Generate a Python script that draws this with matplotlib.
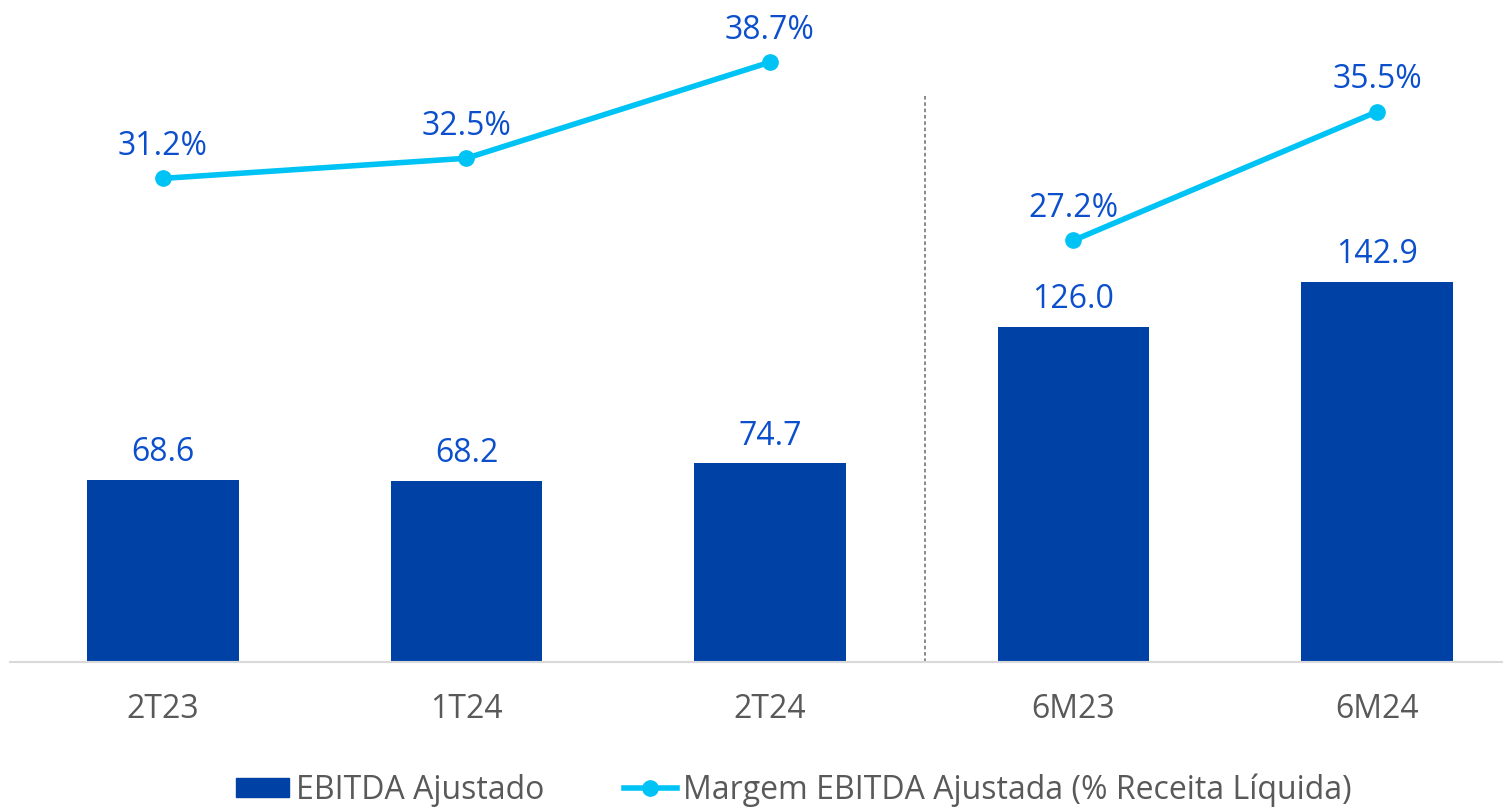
import matplotlib.pyplot as plt
from matplotlib.lines import Line2D
from matplotlib.patches import Patch

categories = ['2T23', '1T24', '2T24', '6M23', '6M24']
ebitda = [68.6, 68.2, 74.7, 126.0, 142.9]
margem = [31.2, 32.5, 38.7, 27.2, 35.5]

bar_color = '#0041A6'
line_color = '#00C3F5'
label_color = '#0B4FCC'
tick_color = '#595959'

plt.rcParams['font.family'] = ['Open Sans', 'DejaVu Sans']

fig = plt.figure(figsize=(15.04, 8.08), dpi=100)
ax = fig.add_axes([10/1504, 1-662/808, 1492/1504, 662/808])
ax2 = ax.twinx()

x = list(range(len(categories)))
ax.bar(x, ebitda, width=0.5, color=bar_color, zorder=2)
for xi, v in zip(x, ebitda):
    ax.text(xi, v + 4.0, f'{v:.1f}', ha='center', va='bottom', fontsize=23, color=label_color)

# quarters and semesters are drawn as two separate lines
ax2.plot(x[:3], margem[:3], color=line_color, lw=4, marker='o', ms=11, zorder=3)
ax2.plot(x[3:], margem[3:], color=line_color, lw=4, marker='o', ms=11, zorder=3)
for xi, v in zip(x, margem):
    ax2.text(xi, v + 1.0, f'{v:.1f}%', ha='center', va='bottom', fontsize=23, color=label_color)

ax.axvline(2.51, ymin=0, ymax=567/662, color='#808080', lw=1.3, ls=(0, (2, 1.5)))

ax.set_xlim(-0.504, 4.412)
ax.set_ylim(0, 662/2.66)
ax2.set_ylim(0, 662/15.5)

ax.set_xticks(x)
ax.set_xticklabels(categories, fontsize=23, color=tick_color)
ax.tick_params(axis='x', length=0, pad=22)
ax.set_yticks([])
ax2.set_yticks([])
for a in (ax, ax2):
    for s in ['top', 'right', 'left', 'bottom']:
        a.spines[s].set_visible(False)
ax.spines['bottom'].set_visible(True)
ax.spines['bottom'].set_color('#D9D9D9')
ax.spines['bottom'].set_linewidth(1.5)

handles = [Patch(color=bar_color),
           Line2D([0], [0], color=line_color, lw=4, marker='o', ms=11)]
labels = ['EBITDA Ajustado', 'Margem EBITDA Ajustada (% Receita Líquida)']
leg = fig.legend(handles, labels, loc='center', bbox_to_anchor=(794/1504, 1-790/808),
                 ncol=2, frameon=False, fontsize=23, handlelength=1.65, handleheight=0.55,
                 handletextpad=0.2, columnspacing=2.5)
for t in leg.get_texts():
    t.set_color(tick_color)

fig.savefig('out.png', dpi=100)
